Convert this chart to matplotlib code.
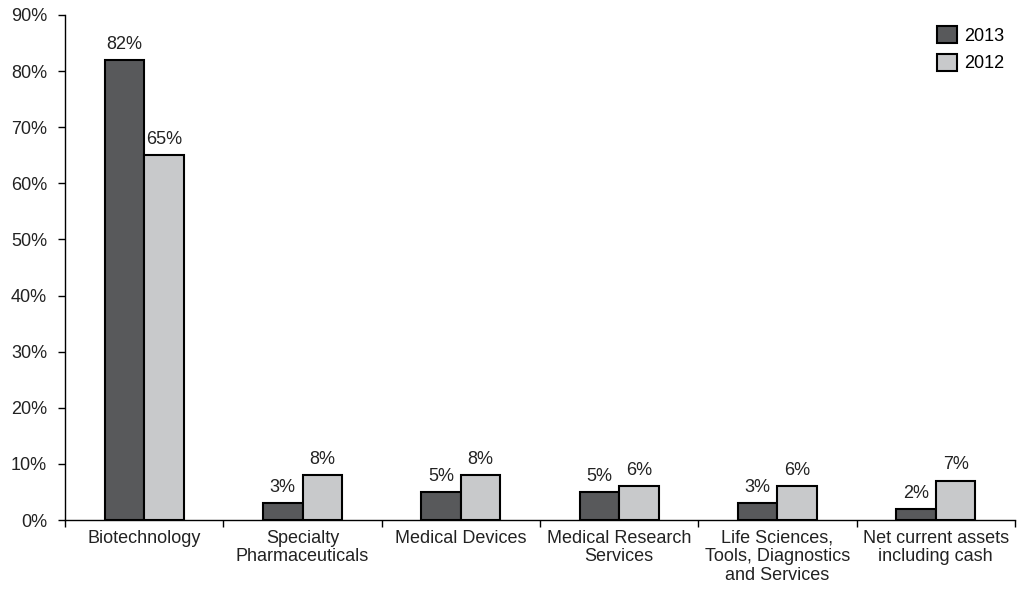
import matplotlib.pyplot as plt
import numpy as np

# --- datos ---
categorias = ["Biotechnology", "Specialty\nPharmaceuticals", "Medical Devices",
              "Medical Research\nServices", "Life Sciences,\nTools, Diagnostics\nand Services",
              "Net current assets\nincluding cash"]
valores_2013 = [82, 3, 5, 5, 3, 2]
valores_2012 = [65, 8, 8, 6, 6, 7]

OSCURO = "#58595b"
CLARO = "#c8c9cb"
TEXTO = "#222222"

plt.rcParams['font.family'] = ['Liberation Sans', 'DejaVu Sans']

fig = plt.figure(figsize=(10.18, 5.9), dpi=100)
ax = fig.add_axes([0.064, 0.1186, 0.933, 0.856])

x = np.arange(len(categorias))
ancho = 0.25

b1 = ax.bar(x - ancho / 2, valores_2013, ancho, color=OSCURO, edgecolor="black",
            linewidth=1.5, label="2013")
b2 = ax.bar(x + ancho / 2, valores_2012, ancho, color=CLARO, edgecolor="black",
            linewidth=1.5, label="2012")

for barras in (b1, b2):
    for b in barras:
        ax.text(b.get_x() + b.get_width() / 2, b.get_height() + 1.3,
                f"{int(b.get_height())}%", ha="center", va="bottom", fontsize=13,
                color=TEXTO)

ax.set_xlim(-0.5, len(categorias) - 0.5)
ax.set_ylim(0, 90)
ax.set_yticks(np.arange(0, 91, 10))
ax.set_yticklabels([f"{v}%" for v in range(0, 91, 10)], fontsize=13, color=TEXTO)

ax.set_xticks(x)
ax.set_xticklabels(categorias, fontsize=13, color=TEXTO, linespacing=1.12)
ax.tick_params(axis="x", which="major", length=0, pad=7)
ax.set_xticks(np.arange(-0.5, len(categorias), 1), minor=True)
ax.tick_params(axis="x", which="minor", length=5, width=1, direction="out")
ax.tick_params(axis="y", length=5, width=1, direction="out", pad=8)

ax.spines["top"].set_visible(False)
ax.spines["right"].set_visible(False)
ax.spines["left"].set_linewidth(1)
ax.spines["bottom"].set_linewidth(1)

ax.legend(loc="upper right", frameon=False, fontsize=13, handlelength=1.1,
          handleheight=1.1, handletextpad=0.4, labelspacing=0.5,
          borderaxespad=0.2, bbox_to_anchor=(1.0, 1.0))

fig.savefig("out.png", dpi=100)
plt.close(fig)
